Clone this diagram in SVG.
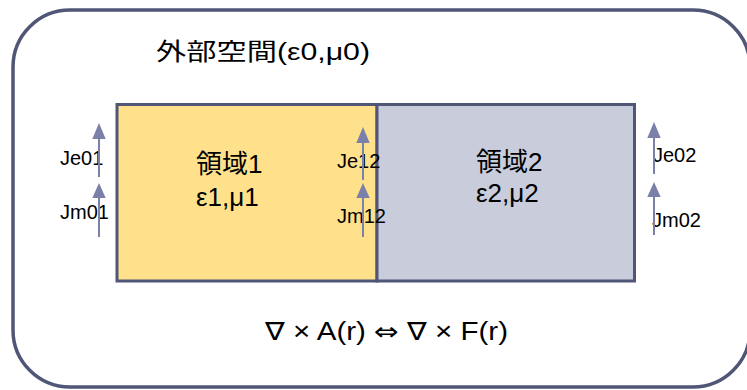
<svg xmlns="http://www.w3.org/2000/svg" width="747" height="390" viewBox="0 0 747 390">
<defs>
<style>
.frame{fill:none;stroke:#4f5676;stroke-width:3.5}
.region{stroke:#4f5676;stroke-width:3}
.r1{fill:#ffe18c}
.r2{fill:#c9ccdb}
.lbl{font-family:"Liberation Sans","Noto Sans CJK JP",sans-serif;font-size:20px;fill:#000}
.big{font-family:"Liberation Sans","Noto Sans CJK JP",sans-serif;font-size:26px;fill:#000}
.title{font-family:"Liberation Sans","Noto Sans CJK JP",sans-serif;font-size:23.5px;fill:#000}
.formula{font-family:"Liberation Sans","DejaVu Sans",sans-serif;font-size:25px;fill:#000}
.sym{font-family:"DejaVu Sans",sans-serif}
.shaft{stroke:#7a80a8;stroke-width:2;fill:none}
.head{fill:#7a80a8}
</style>
</defs>
<g id="outer">
<rect class="frame" x="13" y="10" width="737" height="377" rx="57" ry="57"/>
<text class="title" x="156" y="60" textLength="214" lengthAdjust="spacingAndGlyphs">外部空間(ε0,μ0)</text>
</g>
<g id="region1">
<rect class="region r1" x="117" y="104.5" width="260" height="176.5"/>
<text class="big" x="196" y="173">領域1</text>
<text class="big" x="196" y="205.5">ε1,μ1</text>
</g>
<g id="region2">
<rect class="region r2" x="377" y="104.5" width="257.5" height="176.5"/>
<text class="big" x="476" y="171">領域2</text>
<text class="big" x="476" y="202">ε2,μ2</text>
</g>
<g id="labels">
<text class="lbl" x="60" y="165">Je01</text>
<text class="lbl" x="60" y="219">Jm01</text>
<text class="lbl" x="337" y="168">Je12</text>
<text class="lbl" x="337" y="223">Jm12</text>
<text class="lbl" x="653" y="162">Je02</text>
<text class="lbl" x="652" y="227">Jm02</text>
</g>
<g id="connectors">
<line class="shaft" x1="99" y1="177" x2="99" y2="125"/>
<path class="head" d="M92.3,139 L99,123 L105.7,139 Z"/>
<line class="shaft" x1="99" y1="237" x2="99" y2="185"/>
<path class="head" d="M92.3,198 L99,183 L105.7,198 Z"/>
<line class="shaft" x1="363" y1="180" x2="363" y2="129"/>
<path class="head" d="M356.3,143 L363,127 L369.7,143 Z"/>
<line class="shaft" x1="363" y1="237" x2="363" y2="185"/>
<path class="head" d="M356.3,198 L363,183 L369.7,198 Z"/>
<line class="shaft" x1="654" y1="174" x2="654" y2="124"/>
<path class="head" d="M647.3,138 L654,122 L660.7,138 Z"/>
<line class="shaft" x1="654" y1="235" x2="654" y2="184"/>
<path class="head" d="M647.3,197 L654,182 L660.7,197 Z"/>
</g>
<g id="formula">
<text class="formula" x="265" y="340" textLength="243" lengthAdjust="spacingAndGlyphs">∇ × A(r) <tspan class="sym">⇔</tspan> ∇ × F(r)</text>
</g>
</svg>
